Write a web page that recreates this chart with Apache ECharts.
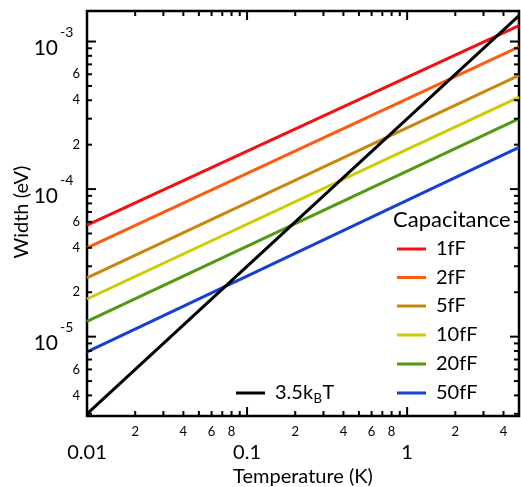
<!DOCTYPE html>
<html>
<head>
<meta charset="utf-8">
<script src="https://cdn.jsdelivr.net/npm/echarts@6/dist/echarts.min.js"></script>
<style>
  html, body { margin: 0; padding: 0; background: #fff; }
  #chart { width: 521px; height: 487px; }
</style>
</head>
<body>
<div id="chart"></div>
<script>
// Temperature end points of every curve (K)
const temperatures = [0.01, 5];

// Charging-energy width for each island capacitance (eV)
const capacitanceNames = ['1fF', '2fF', '5fF', '10fF', '20fF', '50fF'];
const widthAtLowT  = [5.7e-5, 4.0e-5, 2.5e-5, 1.8e-5, 1.27e-5, 7.9e-6];
const widthAtHighT = [1.28e-3, 9.2e-4, 5.9e-4, 4.2e-4, 3.0e-4, 1.92e-4];
const lineColors = ['#f4100e', '#ff5a10', '#c8860c', '#cccc00', '#4f9a12', '#1640d2'];

// Thermal energy 3.5 kB T at the same two temperatures (eV)
const thermalWidth = [3.0e-6, 1.5e-3];

// Axis ranges and tick labels
const xRange = [0.01, 5];
const yRange = [2.9e-6, 1.61e-3];
const xMajorLabels = ['0.01', '0.1', '1'];
const xMinorLabels = [2, 4, 6, 8];
const yMajorExponents = [-5, -4, -3];
const yMinorLabels = [2, 4, 6];

const FONT = 'Lato, "Open Sans", sans-serif';

// Width of a text run, used to place the subscript in the legend label
const measureCtx = document.createElement('canvas').getContext('2d');
function textWidth(text, font) {
  measureCtx.font = font;
  return measureCtx.measureText(text).width;
}

// Build tick list: [x, y, isYAxis, mantissa, exponent]
const tickData = [];
for (let e = -3; e <= 1; e++) {
  for (let m = 1; m <= 9; m++) {
    const v = m * Math.pow(10, e);
    if (v >= xRange[0] * 0.999 && v <= xRange[1] * 1.001) tickData.push([v, yRange[0], 0, m, e]);
  }
}
for (let e = -6; e <= -2; e++) {
  for (let m = 1; m <= 9; m++) {
    const v = m * Math.pow(10, e);
    if (v >= yRange[0] && v <= yRange[1]) tickData.push([xRange[0], v, 1, m, e]);
  }
}

function renderTick(params, api) {
  const v = api.value(0), w = api.value(1), isY = api.value(2), m = api.value(3), e = api.value(4);
  const len = m === 1 ? 9 : 5;
  const lineStyle = { stroke: '#000', lineWidth: 2 };
  const children = [];
  if (!isY) {
    const b = api.coord([v, yRange[0]]);
    const t = api.coord([v, yRange[1]]);
    children.push({ type: 'line', shape: { x1: b[0], y1: b[1], x2: b[0], y2: b[1] - len }, style: lineStyle });
    children.push({ type: 'line', shape: { x1: t[0], y1: t[1], x2: t[0], y2: t[1] + len }, style: lineStyle });
    if (m === 1) {
      const idx = e + 2;
      children.push({ type: 'text', x: b[0], y: b[1] + 37, style: {
        text: xMajorLabels[idx], fill: '#000', font: '20px ' + FONT, align: 'center', verticalAlign: 'middle' } });
    } else if (xMinorLabels.indexOf(m) >= 0) {
      children.push({ type: 'text', x: b[0], y: b[1] + 16, style: {
        text: String(m), fill: '#000', font: '13px ' + FONT, align: 'center', verticalAlign: 'middle' } });
    }
  } else {
    const l = api.coord([xRange[0], w]);
    const r = api.coord([xRange[1], w]);
    children.push({ type: 'line', shape: { x1: l[0], y1: l[1], x2: l[0] + len, y2: l[1] }, style: lineStyle });
    children.push({ type: 'line', shape: { x1: r[0], y1: r[1], x2: r[0] - len, y2: r[1] }, style: lineStyle });
    if (m === 1 && yMajorExponents.indexOf(e) >= 0) {
      children.push({ type: 'text', x: l[0] - 29, y: l[1] + 7, style: {
        text: '10', fill: '#000', font: '21px ' + FONT, align: 'right', verticalAlign: 'middle' } });
      children.push({ type: 'text', x: l[0] - 27, y: l[1] - 9, style: {
        text: String(e), fill: '#000', font: '14px ' + FONT, align: 'left', verticalAlign: 'middle' } });
    } else if (yMinorLabels.indexOf(m) >= 0) {
      children.push({ type: 'text', x: l[0] - 7, y: l[1], style: {
        text: String(m), fill: '#000', font: '13px ' + FONT, align: 'right', verticalAlign: 'middle' } });
    }
  }
  return { type: 'group', children };
}

const series = capacitanceNames.map((name, i) => ({
  name,
  type: 'line',
  data: [[temperatures[0], widthAtLowT[i]], [temperatures[1], widthAtHighT[i]]],
  symbol: 'none',
  lineStyle: { color: lineColors[i], width: 3 },
  itemStyle: { color: lineColors[i] },
  z: 3
}));
series.push({
  name: '3.5kBT',
  type: 'line',
  data: [[temperatures[0], thermalWidth[0]], [temperatures[1], thermalWidth[1]]],
  symbol: 'none',
  lineStyle: { color: '#000', width: 3 },
  z: 4
});
series.push({
  type: 'custom',
  renderItem: renderTick,
  data: tickData,
  encode: { x: 0, y: 1 },
  clip: false,
  silent: true,
  z: 5
});

// Legend drawn as graphic elements
const legendRowY = [249, 277.5, 306, 335, 364, 393];
const graphics = [
  { type: 'text', x: 393, y: 220, style: { text: 'Capacitance', fill: '#000', font: '22px ' + FONT, verticalAlign: 'middle' } }
];
capacitanceNames.forEach((name, i) => {
  graphics.push({ type: 'line', shape: { x1: 397, y1: legendRowY[i], x2: 426, y2: legendRowY[i] },
    style: { stroke: lineColors[i], lineWidth: 3 } });
  graphics.push({ type: 'text', x: 436, y: legendRowY[i], style: {
    text: name, fill: '#000', font: '20px ' + FONT, verticalAlign: 'middle' } });
});

// "3.5kBT" legend entry with subscript B
const mainFont = '20px ' + FONT, subFont = '13px ' + FONT;
const kbX = 275;
const bX = kbX + textWidth('3.5k', mainFont) + 0.5;
const tX = bX + textWidth('B', subFont) + 0.5;
graphics.push({ type: 'line', shape: { x1: 236, y1: 393, x2: 265, y2: 393 }, style: { stroke: '#000', lineWidth: 3 } });
graphics.push({ type: 'text', x: kbX, y: 393, style: { text: '3.5k', fill: '#000', font: mainFont, verticalAlign: 'middle' } });
graphics.push({ type: 'text', x: bX, y: 399, style: { text: 'B', fill: '#000', font: subFont, verticalAlign: 'middle' } });
graphics.push({ type: 'text', x: tX, y: 393, style: { text: 'T', fill: '#000', font: mainFont, verticalAlign: 'middle' } });

// Axis titles
graphics.push({ type: 'text', x: 303, y: 477, style: {
  text: 'Temperature (K)', fill: '#000', font: '20px ' + FONT, align: 'center', verticalAlign: 'middle' } });
graphics.push({ type: 'text', x: 22, y: 212, rotation: Math.PI / 2, style: {
  text: 'Width (eV)', fill: '#000', font: '20px ' + FONT, align: 'center', verticalAlign: 'middle' } });

const chart = echarts.init(document.getElementById('chart'), null, { renderer: 'canvas' });
chart.setOption({
  animation: false,
  backgroundColor: '#fff',
  grid: {
    left: 87, right: 2, top: 11, bottom: 71,
    outerBoundsMode: 'none', containLabel: false,
    show: true, borderColor: '#000', borderWidth: 2.5, backgroundColor: 'transparent'
  },
  xAxis: {
    type: 'log', logBase: 10, min: xRange[0], max: xRange[1],
    axisLine: { show: false }, axisTick: { show: false }, axisLabel: { show: false }, splitLine: { show: false }
  },
  yAxis: {
    type: 'log', logBase: 10, min: yRange[0], max: yRange[1],
    axisLine: { show: false }, axisTick: { show: false }, axisLabel: { show: false }, splitLine: { show: false }
  },
  graphic: graphics,
  series
});
</script>
</body>
</html>
